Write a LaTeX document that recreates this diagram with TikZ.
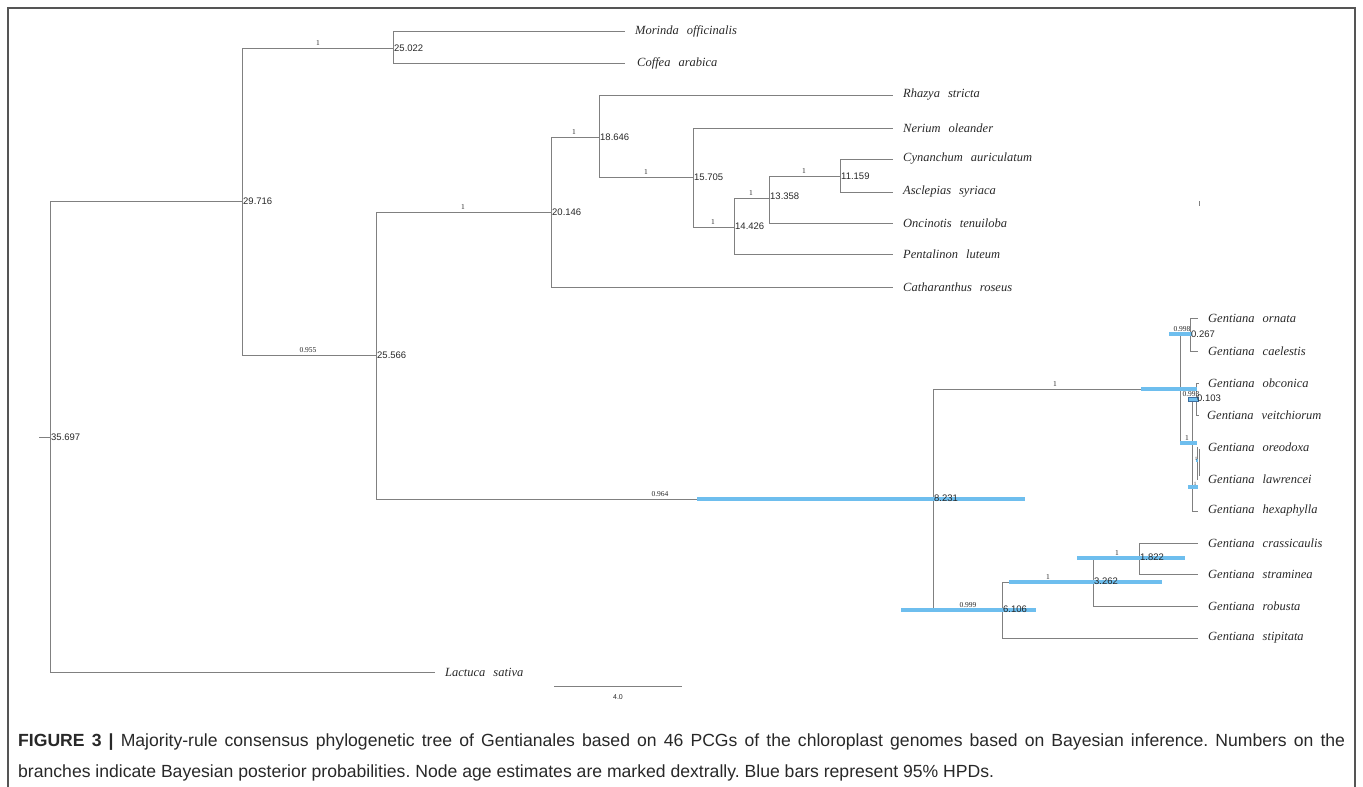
\documentclass[tikz,border=0pt]{standalone}
\usepackage{fontspec}
\setmainfont{Liberation Serif}
\newfontfamily\agefont{Liberation Sans}
\definecolor{brc}{RGB}{128,128,128}
\definecolor{hpd}{RGB}{110,190,238}
\definecolor{hpddark}{RGB}{60,110,160}
\definecolor{frm}{RGB}{85,85,85}
\definecolor{txt}{RGB}{40,40,40}
\newcommand{\gap}{\hspace{8pt}}
\frenchspacing
\tikzset{
  br/.style={draw=brc, line width=0.9pt},
  bar/.style={draw=hpd, line width=4pt},
  age/.style={font=\agefont\fontsize{9.5}{10}\selectfont, anchor=west, inner sep=1pt, text=txt},
  pp/.style={font=\fontsize{7.5}{8}\selectfont, anchor=south, inner sep=0pt, text=txt},
  tip/.style={font=\fontsize{12.5}{14}\selectfont\itshape, anchor=west, inner sep=0pt, text=txt},
  captext/.style={font=\agefont\fontsize{17.6}{20}\selectfont, anchor=base west, inner sep=0pt, text=txt}
}
\begin{document}
\begin{tikzpicture}[x=1pt,y=-1pt]
\useasboundingbox (0,0) rectangle (1363,787);
\draw[frm, line width=2pt] (8,787) -- (8,8) -- (1355,8) -- (1355,787);
% coordinates
\coordinate (r0) at (39,437);
\coordinate (n35) at (50,437);
\coordinate (n29) at (242,201);
\coordinate (n25a) at (393,48);
\coordinate (tMor) at (625,31);
\coordinate (tCof) at (625,63);
\coordinate (tLac) at (435,672);
\coordinate (n25b) at (376,355);
\coordinate (n20) at (551,212);
\coordinate (n18) at (599,137);
\coordinate (tRha) at (893,95);
\coordinate (n15) at (693,177);
\coordinate (tNer) at (893,128);
\coordinate (n14) at (734,227);
\coordinate (tPen) at (893,254);
\coordinate (n13) at (769,198);
\coordinate (tOnc) at (893,223);
\coordinate (n11) at (840,176);
\coordinate (tCyn) at (893,159);
\coordinate (tAsc) at (893,192);
\coordinate (tCat) at (893,287);
\coordinate (n8) at (933,499);
\coordinate (g1) at (1180,389);
\coordinate (g998) at (1190,334);
\coordinate (tOrn) at (1198,318);
\coordinate (tCae) at (1198,351);
\coordinate (g2) at (1192,443);
\coordinate (g993) at (1196,399);
\coordinate (tObc) at (1199,383);
\coordinate (tVei) at (1199,415);
\coordinate (g3) at (1197,463);
\coordinate (tOre) at (1198,447);
\coordinate (tLaw) at (1198,479);
\coordinate (tHex) at (1198,511);
\coordinate (n6) at (1002,610);
\coordinate (n3) at (1093,582);
\coordinate (n1) at (1139,558);
\coordinate (tCra) at (1198,543);
\coordinate (tStr) at (1198,574);
\coordinate (tRob) at (1198,606);
\coordinate (tSti) at (1198,638);
% branches
\draw[br] (r0) -- (n35);
\draw[br] (n35) |- (n29);  \draw[br] (n35) |- (tLac);
\draw[br] (n29) |- (n25a); \draw[br] (n29) |- (n25b);
\draw[br] (n25a) |- (tMor); \draw[br] (n25a) |- (tCof);
\draw[br] (n25b) |- (n20); \draw[br] (n25b) |- (n8);
\draw[br] (n20) |- (n18);  \draw[br] (n20) |- (tCat);
\draw[br] (n18) |- (tRha); \draw[br] (n18) |- (n15);
\draw[br] (n15) |- (tNer); \draw[br] (n15) |- (n14);
\draw[br] (n14) |- (n13);  \draw[br] (n14) |- (tPen);
\draw[br] (n13) |- (n11);  \draw[br] (n13) |- (tOnc);
\draw[br] (n11) |- (tCyn); \draw[br] (n11) |- (tAsc);
\draw[br] (n8) |- (g1);    \draw[br] (n8) |- (n6);
\draw[br] (g1) |- (g998);  \draw[br] (g1) |- (g2);
\draw[br] (g998) |- (tOrn); \draw[br] (g998) |- (tCae);
\draw[br] (g2) |- (g993);  \draw[br] (g2) |- (tHex);
\draw[br] (g993) |- (tObc); \draw[br] (g993) |- (tVei);
\draw[br] (g3) |- (tOre);  \draw[br] (g3) |- (tLaw);
\draw[br] (1199.5,449) -- (1199.5,476);
\draw[br] (n6) |- (n3);    \draw[br] (n6) |- (tSti);
\draw[br] (n3) |- (n1);    \draw[br] (n3) |- (tRob);
\draw[br] (n1) |- (tCra);  \draw[br] (n1) |- (tStr);
\draw[br] (1199,201) -- (1199,206);
% HPD bars
\draw[bar] (697,499) -- (1025,499);
\draw[bar] (1141,389) -- (1197,389);
\draw[bar] (1169,334) -- (1192,334);
\draw[fill=hpd, draw=hpddark, line width=0.6pt] (1188,397) rectangle (1198,401);
\draw[bar] (1180,443) -- (1197,443);
\draw[bar] (1188,487) -- (1198,487);
\draw[bar, line width=3pt] (1196,460) -- (1198,460);
\draw[bar] (901,610) -- (1036,610);
\draw[bar] (1009,582) -- (1162,582);
\draw[bar] (1077,558) -- (1185,558);
% ages
\node[age] (a35) at (n35) {35.697};
\node[age] (a29) at (n29) {29.716};
\node[age] (a25a) at (n25a) {25.022};
\node[age] (a25b) at (n25b) {25.566};
\node[age] (a20) at (n20) {20.146};
\node[age] (a18) at (n18) {18.646};
\node[age] (a15) at (n15) {15.705};
\node[age] (a14) at ([yshift=1pt]n14) {14.426};
\node[age] (a13) at ([yshift=2pt]n13) {13.358};
\node[age] (a11) at (n11) {11.159};
\node[age] (a8) at ([yshift=1pt]n8) {8.231};
\node[age] (a998) at (g998) {0.267};
\node[age] (a993) at ([yshift=1pt]g993) {0.103};
\node[age] (a1) at ([yshift=1pt]n1) {1.822};
\node[age] (a3) at ([yshift=1pt]n3) {3.262};
\node[age] (a6) at ([yshift=1pt]n6) {6.106};
% posterior probabilities
\node[pp] (p1) at (318,46) {1};
\node[pp] (p2) at (308,353) {0.955};
\node[pp] (p3) at (463,210) {1};
\node[pp] (p4) at (574,135) {1};
\node[pp] (p5) at (646,175) {1};
\node[pp] (p6) at (713,225) {1};
\node[pp] (p7) at (751,196) {1};
\node[pp] (p8) at (804,174) {1};
\node[pp] (p9) at (660,497) {0.964};
\node[pp] (p10) at (1055,387) {1};
\node[pp] (p11) at (1182,332) {0.998};
\node[pp] (p12) at (1191,397) {0.993};
\node[pp] (p13) at (1187,441) {1};
\node[pp, font=\fontsize{5}{6}\selectfont] (p14) at (1195,486) {1};
\node[pp, font=\fontsize{5}{6}\selectfont] (p15) at (1196,461) {1};
\node[pp] (p16) at (968,608) {0.999};
\node[pp] (p17) at (1048,580) {1};
\node[pp] (p18) at (1117,556) {1};
% tip labels
\node[tip] (lMor) at ([xshift=10pt]tMor) {Morinda\gap officinalis};
\node[tip] (lCof) at ([xshift=12pt]tCof) {Coffea\gap arabica};
\node[tip] (lRha) at ([xshift=10pt]tRha) {Rhazya\gap stricta};
\node[tip] (lNer) at ([xshift=10pt]tNer) {Nerium\gap oleander};
\node[tip] (lCyn) at ([xshift=10pt]tCyn) {Cynanchum\gap auriculatum};
\node[tip] (lAsc) at ([xshift=10pt]tAsc) {Asclepias\gap syriaca};
\node[tip] (lOnc) at ([xshift=10pt]tOnc) {Oncinotis\gap tenuiloba};
\node[tip] (lPen) at ([xshift=10pt]tPen) {Pentalinon\gap luteum};
\node[tip] (lCat) at ([xshift=10pt]tCat) {Catharanthus\gap roseus};
\node[tip] (lLac) at ([xshift=10pt]tLac) {Lactuca\gap sativa};
\node[tip] (lOrn) at (1208,318) {Gentiana\gap ornata};
\node[tip] (lCae) at (1208,351) {Gentiana\gap caelestis};
\node[tip] (lObc) at (1208,383) {Gentiana\gap obconica};
\node[tip] (lVei) at (1207,415) {Gentiana\gap veitchiorum};
\node[tip] (lOre) at (1208,447) {Gentiana\gap oreodoxa};
\node[tip] (lLaw) at (1208,479) {Gentiana\gap lawrencei};
\node[tip] (lHex) at (1208,511) {Gentiana\gap hexaphylla};
\node[tip] (lCra) at (1208,543) {Gentiana\gap crassicaulis};
\node[tip] (lStr) at (1208,574) {Gentiana\gap straminea};
\node[tip] (lRob) at (1208,606) {Gentiana\gap robusta};
\node[tip] (lSti) at (1208,638) {Gentiana\gap stipitata};
% scale bar
\coordinate (sb1) at (554,686);
\coordinate (sb2) at (682,686);
\draw[br] (sb1) -- (sb2);
\node[font=\agefont\fontsize{7}{8}\selectfont, text=txt, inner sep=0pt] (sbl) at (618,697) {4.0};
% caption
\node[captext] (cap1) at (18,746) {\makebox[1327pt][s]{\textbf{FIGURE 3 |} Majority-rule consensus phylogenetic tree of Gentianales based on 46 PCGs of the chloroplast genomes based on Bayesian inference. Numbers on the}};
\node[captext] (cap2) at (18,777) {branches indicate Bayesian posterior probabilities. Node age estimates are marked dextrally. Blue bars represent 95\% HPDs.};
\end{tikzpicture}
\end{document}
